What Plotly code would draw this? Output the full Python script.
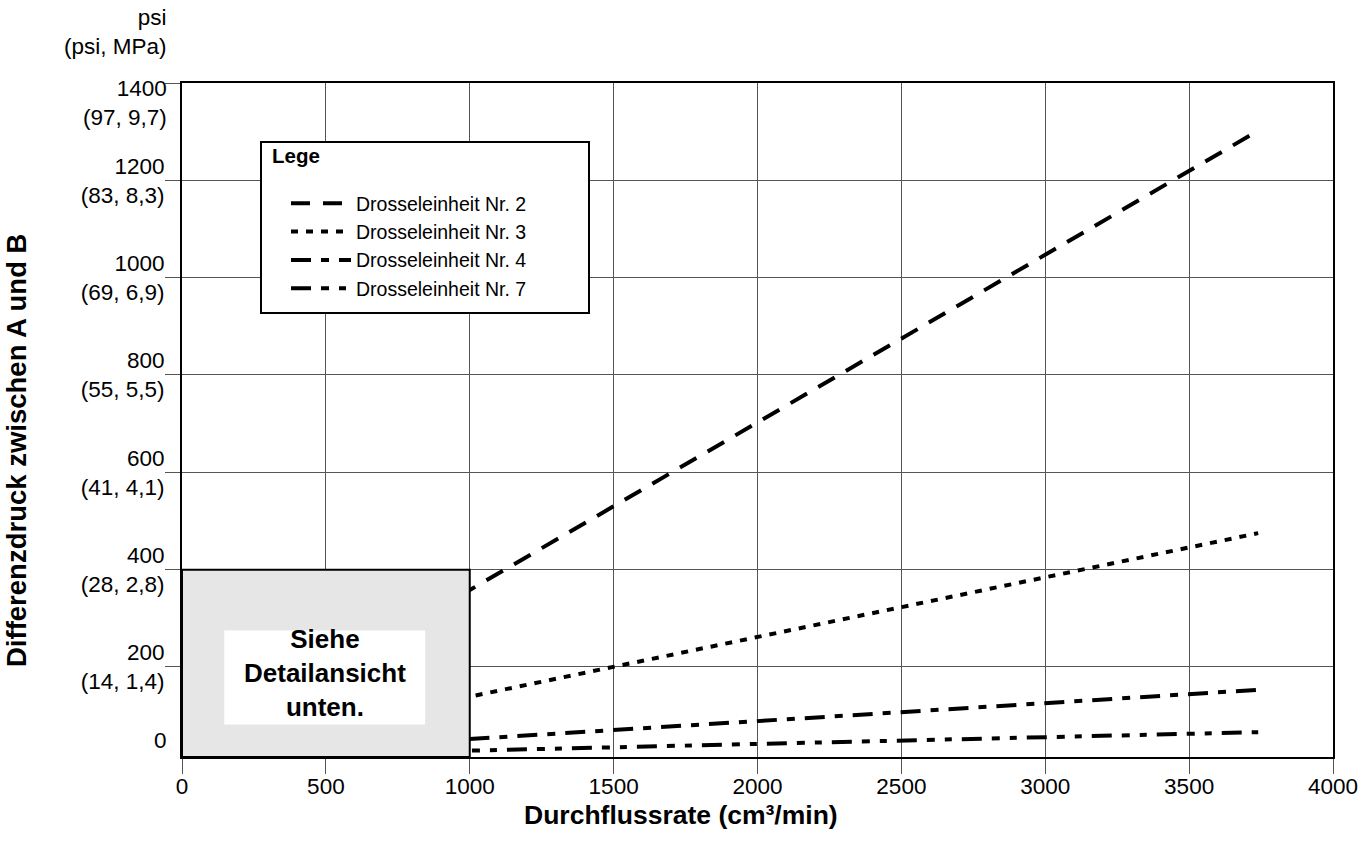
import plotly.graph_objects as go

# ---- data ----
flow = [0, 1000, 3740]                 # cm3/min
series_names = ["Drosseleinheit Nr. 2", "Drosseleinheit Nr. 3",
                "Drosseleinheit Nr. 4", "Drosseleinheit Nr. 7"]
nr2 = [15, 358, 1302]
nr3 = [15, 139, 475]
nr4 = [15, 52, 153]
nr7 = [15, 28, 66]
series_values = [nr2, nr3, nr4, nr7]

y_tickvals = [200, 400, 600, 800, 1000, 1200, 1400]
y_ticktext = ["200<br>(14, 1,4)", "400<br>(28, 2,8)", "600<br>(41, 4,1)",
              "800<br>(55, 5,5)", "1000<br>(69, 6,9)", "1200<br>(83, 8,3)",
              ""]
top_label = "1400<br>(97, 9,7)"
x_tickvals = [0, 500, 1000, 1500, 2000, 2500, 3000, 3500, 4000]

# ---- styles ----
FONT = "Liberation Sans, Arial, Helvetica, sans-serif"
dashes = ["19px,13px", "7px,8px", "20px,10px,8px,10px",
          "20px,10px,8px,10px,7px,10px"]
TICK_SIZE = 22.5

Y_MIN, Y_MAX = 15, 1400

fig = go.Figure()
for name, vals, dash in zip(series_names, series_values, dashes):
    fig.add_trace(go.Scatter(
        x=flow, y=vals, mode="lines", name=name,
        line=dict(color="black", width=4, dash=dash),
    ))

grid_col = "#555555"
fig.update_layout(
    width=1369, height=861,
    margin=dict(l=182, r=36, t=83, b=104, autoexpand=False),
    paper_bgcolor="white", plot_bgcolor="white",
    font=dict(family=FONT, color="black", size=21),
    showlegend=True,
    legend=dict(
        x=(286 - 182) / 1151, y=(757 - 184) / 674,
        xanchor="left", yanchor="top",
        bgcolor="rgba(0,0,0,0)", borderwidth=0,
        font=dict(family=FONT, size=19.5, color="black"),
        itemwidth=60, tracegroupgap=0,
    ),
    xaxis=dict(
        range=[0, 4000], tickvals=x_tickvals, automargin=False,
        showgrid=True, gridcolor=grid_col, gridwidth=1,
        showline=True, linecolor="black", linewidth=2, mirror=True,
        ticks="outside", ticklen=15, tickwidth=1, tickcolor=grid_col,
        tickfont=dict(size=TICK_SIZE), zeroline=False,
        ticklabelstandoff=-7,
    ),
    yaxis=dict(
        range=[Y_MIN, Y_MAX], tickvals=y_tickvals, ticktext=y_ticktext,
        automargin=False,
        showgrid=True, gridcolor=grid_col, gridwidth=1,
        showline=True, linecolor="black", linewidth=2, mirror=True,
        ticks="outside", ticklen=15, tickwidth=1, tickcolor=grid_col,
        tickfont=dict(size=TICK_SIZE), zeroline=False,
        ticklabelstandoff=-4,
    ),
)

# legend box
fig.add_shape(type="rect", xref="paper", yref="paper",
              x0=(261 - 182) / 1151, x1=(589 - 182) / 1151,
              y0=(757 - 313) / 674, y1=(757 - 142) / 674,
              fillcolor="white", line=dict(color="black", width=2),
              layer="above")
fig.add_annotation(xref="paper", yref="paper",
                   x=(270 - 182) / 1151, y=(757 - 155) / 674,
                   xanchor="left", yanchor="middle", text="<b>Lege</b>",
                   showarrow=False, font=dict(size=20.5))

# gray "detail" box
fig.add_shape(type="rect", x0=0, x1=1000, y0=Y_MIN, y1=400,
              fillcolor="#e6e6e6", line=dict(color="black", width=2),
              layer="above")
fig.add_shape(type="rect", x0=147, x1=845, y0=82, y1=275,
              fillcolor="white", line=dict(width=0), layer="above")
fig.add_annotation(x=496, y=187, text="<b>Siehe<br>Detailansicht<br>unten.</b>",
                   showarrow=False, font=dict(size=26), align="center")

# "0" and top tick labels
fig.add_annotation(xref="paper", x=0, xanchor="right", xshift=-13,
                   y=48, text="0", showarrow=False, font=dict(size=TICK_SIZE))
fig.add_annotation(xref="paper", x=0, xanchor="right", xshift=-13,
                   y=1400, yanchor="middle", yshift=-20, text=top_label,
                   align="right", showarrow=False, font=dict(size=TICK_SIZE))
# unit header
fig.add_annotation(xref="paper", yref="paper", x=0, y=1, xanchor="right",
                   yanchor="bottom", xshift=-13, yshift=22,
                   text="psi<br>(psi, MPa)", showarrow=False, align="right",
                   font=dict(size=TICK_SIZE))
# axis titles
fig.add_annotation(xref="paper", yref="paper", x=(681 - 182) / 1151,
                   y=-(815 - 757) / 674, yanchor="middle",
                   text="<b>Durchflussrate (cm³/min)</b>", showarrow=False,
                   font=dict(size=26.5))
fig.add_annotation(xref="paper", yref="paper", x=-(182 - 16) / 1151,
                   y=(757 - 451) / 674, xanchor="center", yanchor="middle",
                   textangle=-90,
                   text="<b>Differenzdruck zwischen A und B</b>",
                   showarrow=False, font=dict(size=27.5))

fig.write_html("out.html",
               config={"displayModeBar": False},
               post_script="document.body.style.margin='0';")
